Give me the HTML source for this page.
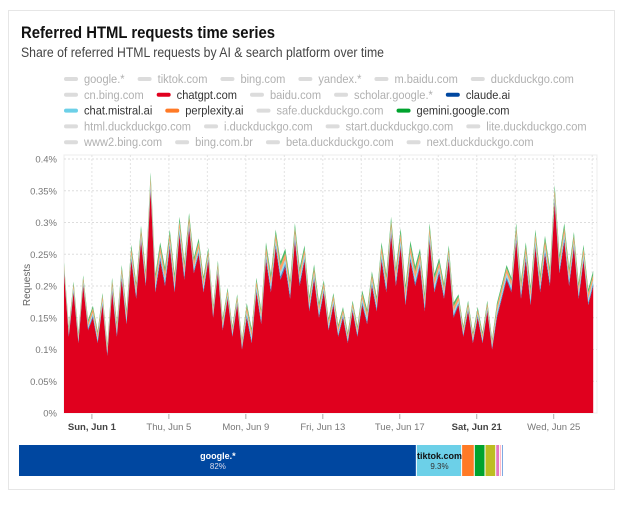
<!DOCTYPE html>
<html><head><meta charset="utf-8"><style>
body{margin:0;background:#fff;width:622px;height:500px;overflow:hidden;font-family:"Liberation Sans",sans-serif}
</style></head><body>
<svg width="622" height="500" xmlns="http://www.w3.org/2000/svg" font-family="Liberation Sans, sans-serif">
<rect x="8.5" y="10.5" width="606" height="479" fill="#fff" stroke="#e6e6e6"/>
<text x="21" y="38" font-size="17" font-weight="bold" fill="#111" textLength="254" lengthAdjust="spacingAndGlyphs">Referred HTML requests time series</text>
<text x="21" y="57" font-size="13.5" fill="#444" textLength="363" lengthAdjust="spacingAndGlyphs">Share of referred HTML requests by AI &amp; search platform over time</text>
<g id="legend"></g>
<g id="grid"></g>
<g id="series"></g>
<g id="axes"></g>
<text transform="translate(30,285) rotate(-90)" text-anchor="middle" font-size="10" fill="#666">Requests</text>
<g id="share"></g>
</svg>
<script>
const legendNames=["google.*","tiktok.com","bing.com","yandex.*","m.baidu.com","duckduckgo.com","cn.bing.com","chatgpt.com","baidu.com","scholar.google.*","claude.ai","chat.mistral.ai","perplexity.ai","safe.duckduckgo.com","gemini.google.com","html.duckduckgo.com","i.duckduckgo.com","start.duckduckgo.com","lite.duckduckgo.com","www2.bing.com","bing.com.br","beta.duckduckgo.com","next.duckduckgo.com"];
const legendRows=[6,5,4,4,4];
const activeColors={"chatgpt.com":"#e0001e","claude.ai":"#0047a0","chat.mistral.ai":"#6cd0e8","perplexity.ai":"#ff7a26","gemini.google.com":"#00a32e"};
// chatgpt share (%), every 6 hours starting day -1.45 relative to Jun 1
const startDay=-1.45, stepDay=0.25;
const chatgpt=[0.22,0.12,0.19,0.11,0.20,0.13,0.15,0.11,0.17,0.09,0.19,0.12,0.21,0.14,0.24,0.18,0.27,0.20,0.35,0.19,0.24,0.20,0.26,0.19,0.28,0.21,0.29,0.22,0.25,0.19,0.24,0.15,0.22,0.13,0.18,0.12,0.17,0.10,0.15,0.11,0.19,0.14,0.24,0.19,0.26,0.21,0.23,0.18,0.27,0.20,0.24,0.16,0.21,0.15,0.19,0.13,0.17,0.12,0.15,0.11,0.16,0.12,0.17,0.14,0.20,0.16,0.24,0.19,0.28,0.20,0.26,0.17,0.24,0.20,0.23,0.16,0.27,0.19,0.22,0.18,0.24,0.15,0.17,0.12,0.16,0.11,0.15,0.11,0.16,0.10,0.15,0.18,0.21,0.19,0.27,0.18,0.24,0.17,0.26,0.19,0.25,0.20,0.33,0.22,0.27,0.20,0.26,0.18,0.24,0.17,0.20];
// daily values (%) for smaller series, one per day from day -1
const claude=[0.003,0.003,0.004,0.004,0.005,0.005,0.004,0.003,0.003,0.004,0.005,0.005,0.004,0.003,0.003,0.004,0.005,0.005,0.005,0.004,0.003,0.003,0.004,0.005,0.005,0.005,0.004,0.004];
const mistral=[0.004,0.005,0.006,0.006,0.007,0.007,0.006,0.005,0.004,0.006,0.007,0.007,0.006,0.005,0.004,0.006,0.007,0.007,0.007,0.006,0.004,0.004,0.006,0.007,0.007,0.007,0.006,0.006];
const perplexity=[0.006,0.007,0.008,0.009,0.010,0.010,0.009,0.007,0.006,0.008,0.010,0.010,0.008,0.007,0.006,0.008,0.010,0.011,0.010,0.008,0.006,0.006,0.008,0.010,0.010,0.010,0.009,0.008];
const gemini=[0.004,0.004,0.005,0.006,0.007,0.007,0.006,0.005,0.004,0.005,0.007,0.007,0.006,0.004,0.004,0.005,0.007,0.008,0.007,0.006,0.004,0.004,0.005,0.007,0.007,0.007,0.006,0.006];
const yTicks=[0,0.05,0.1,0.15,0.2,0.25,0.3,0.35,0.4];
const yTickLabels=["0%","0.05%","0.1%","0.15%","0.2%","0.25%","0.3%","0.35%","0.4%"];
const xTickDays=[0,4,8,12,16,20,24];
const xTickLabels=["Sun, Jun 1","Thu, Jun 5","Mon, Jun 9","Fri, Jun 13","Tue, Jun 17","Sat, Jun 21","Wed, Jun 25"];
const xTickBold=[true,false,false,false,false,true,false];
const shareNames=["google.*","tiktok.com","o1","o2","o3","o4","o5","o6"];
const shareValues=[81.7,9.3,2.6,2.2,2.2,0.8,0.4,0.4];
const shareColors=["#0047a0","#6cd0e8","#ff7a26","#00a32e","#bcbd22","#e377c2","#ffb3c1","#7aa6e0"];

const NS="http://www.w3.org/2000/svg";
function mk(tag,attrs,parent){const e=document.createElementNS(NS,tag);for(const k in attrs)e.setAttribute(k,attrs[k]);parent.appendChild(e);return e;}
const X0=64,X1=597,Y0=413,Y1=157;
const dayMin=-1.45,dayMax=26.25;
const x=d=>X0+(d-dayMin)/(dayMax-dayMin)*(X1-X0);
const y=v=>Y0-v/0.4*(Y0-159);

// legend
const lg=document.getElementById('legend');
let idx=0;
legendRows.forEach((n,r)=>{let cx=64;const cy=83+r*15.8;for(let j=0;j<n;j++){const name=legendNames[idx++];const col=activeColors[name];
 const g=mk('g',{},lg);
 
 
 mk('rect',{x:cx,y:cy-6,width:14,height:4,rx:2,fill:col||'#dcdcdc'},g);
 const t=mk('text',{x:cx+20,y:cy,'font-size':'12.3',fill:col?'#333':'#b0b0b0'},g);t.textContent=name;
 const w=t.getComputedTextLength()*0.9;t.setAttribute('textLength',w.toFixed(1));t.setAttribute('lengthAdjust','spacingAndGlyphs');
 cx+=20+w+13;}});

// grid
const gr=document.getElementById('grid');
mk('rect',{x:X0,y:155,width:X1-X0,height:Y0-155,fill:'none',stroke:'#ececec'},gr);
yTicks.forEach(v=>{if(v>0)mk('line',{x1:X0,x2:X1,y1:y(v),y2:y(v),stroke:'#ddd','stroke-dasharray':'2,2'},gr);});
for(let d=0;d<=26;d+=2)mk('line',{x1:x(d),x2:x(d),y1:155,y2:Y0,stroke:'#e3e3e3','stroke-dasharray':'2,2'},gr);

// stacked series
const sg=document.getElementById('series');
const layers=[["chatgpt",chatgpt,null,"#e0001e"],["claude",null,claude,"#0047a0"],["mistral",null,mistral,"#6cd0e8"],["perplexity",null,perplexity,"#ff7a26"],["gemini",null,gemini,"#00a32e"]];
const n=chatgpt.length;const base=new Array(n).fill(0);
layers.forEach(([name,full,daily,col])=>{
 const tops=[];for(let i=0;i<n;i++){const d=startDay+i*stepDay;const v=full?full[i]:daily[Math.min(daily.length-1,Math.max(0,Math.floor(d+1)))];tops.push(base[i]+v);}
 let p='';for(let i=0;i<n;i++){const d=startDay+i*stepDay;p+=(i?'L':'M')+x(d).toFixed(1)+','+y(tops[i]).toFixed(1);}
 for(let i=n-1;i>=0;i--){const d=startDay+i*stepDay;p+='L'+x(d).toFixed(1)+','+y(base[i]).toFixed(1);}
 const a=mk('path',{d:p+'Z',fill:col,opacity:full?1:0.7},sg);
 
 
 for(let i=0;i<n;i++)base[i]=tops[i];
});

// axes
const ax=document.getElementById('axes');
yTicks.forEach((v,i)=>{const t=mk('text',{x:57,y:y(v)+3.5,'text-anchor':'end','font-size':'9.5',fill:'#777'},ax);t.textContent=yTickLabels[i];
 
 });
xTickDays.forEach((d,i)=>{mk('line',{x1:x(d),x2:x(d),y1:414,y2:419,stroke:'#aaa'},ax);
 const t=mk('text',{x:x(d),y:430,'text-anchor':'middle','font-size':'9.5',fill:xTickBold[i]?'#444':'#777','font-weight':xTickBold[i]?'bold':'normal'},ax);t.textContent=xTickLabels[i];
 
 });

// share bar
const sh=document.getElementById('share');
const SX0=19,SX1=504;const tot=shareValues.reduce((a,b)=>a+b,0);let cx=SX0;
shareValues.forEach((v,i)=>{const w=v/tot*(SX1-SX0);
 const r=mk('rect',{x:cx,y:445,width:Math.max(w-1,0.5),height:31,fill:shareColors[i]},sh);
 
 
 if(i<2){const white=i===0;const tc=white?'#fff':'#111';
  const t1=mk('text',{x:cx+w/2,y:459,'text-anchor':'middle','font-size':'9','font-weight':'bold',fill:tc},sh);t1.textContent=shareNames[i];
  
  
  const t2=mk('text',{x:cx+w/2,y:469,'text-anchor':'middle','font-size':'8',fill:white?'#dde':'#333'},sh);t2.textContent=(i===0?Math.round(v):v)+'%';
  
  }
 cx+=w;});
</script>
</body></html>
